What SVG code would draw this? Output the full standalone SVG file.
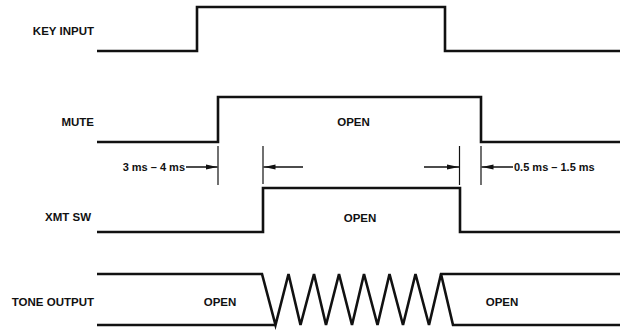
<svg xmlns="http://www.w3.org/2000/svg" width="620" height="330" viewBox="0 0 620 330">
<style>
.lbl{font-family:"Liberation Sans",Arial,sans-serif;font-weight:bold;font-size:11.5px;fill:#111}
.dim{font-family:"Liberation Sans",Arial,sans-serif;font-weight:bold;font-size:11px;fill:#111}
.wave{fill:none;stroke:#111;stroke-width:2.6;stroke-linejoin:miter}
.tick{stroke:#111;stroke-width:1.2}
.arr{stroke:#111;stroke-width:1.5;marker-end:url(#ah)}
</style>
<defs>
<marker id="ah" viewBox="0 0 12 6" refX="12" refY="3" markerWidth="12" markerHeight="6" markerUnits="userSpaceOnUse" orient="auto">
<path d="M0,0.5 L12,3 L0,5.5 Z" fill="#111"/>
</marker>
</defs>
<rect width="620" height="330" fill="#fff"/>
<g id="key-input">
<text class="lbl" x="94" y="35" text-anchor="end">KEY INPUT</text>
<polyline class="wave" points="97,51 197,51 197,7 445,7 445,51 620,51"/>
</g>
<g id="mute">
<text class="lbl" x="94" y="126" text-anchor="end">MUTE</text>
<polyline class="wave" points="97,142 218,142 218,97 481,97 481,142 620,142"/>
<text class="lbl" x="353.5" y="126" text-anchor="middle">OPEN</text>
</g>
<g id="xmt-sw">
<text class="lbl" x="91" y="220.5" text-anchor="end">XMT SW</text>
<polyline class="wave" points="97,232 263,232 263,188 460,188 460,232 620,232"/>
<text class="lbl" x="360" y="221.5" text-anchor="middle">OPEN</text>
</g>
<g id="tone-output">
<text class="lbl" x="94" y="306" text-anchor="end">TONE OUTPUT</text>
<polyline class="wave" points="97,274 262,274 275.5,325 288.5,274 300.5,325 314,274 326,325 339,274 352,325 364,274 377.5,325 389.5,274 403,325 415.5,274 429,325 441,274 620,274"/>
<polyline class="wave" points="97,325 275.5,325"/>
<polyline class="wave" points="441,274 453,325 620,325"/>
<text class="lbl" x="220" y="306" text-anchor="middle">OPEN</text>
<text class="lbl" x="502" y="306" text-anchor="middle">OPEN</text>
</g>
<g id="connectors">
<line class="tick" x1="218" y1="146" x2="218" y2="185"/>
<line class="tick" x1="263" y1="146" x2="263" y2="184"/>
<line class="tick" x1="459.5" y1="146" x2="459.5" y2="185"/>
<line class="tick" x1="481" y1="146" x2="481" y2="185"/>
<line class="arr" x1="186" y1="167" x2="217.5" y2="167"/>
<line class="arr" x1="303" y1="167" x2="263.5" y2="167"/>
<line class="arr" x1="424" y1="167" x2="459" y2="167"/>
<line class="arr" x1="513" y1="167" x2="481.5" y2="167"/>
<text class="dim" x="185" y="171" text-anchor="end">3 ms – 4 ms</text>
<text class="dim" x="514" y="171">0.5 ms – 1.5 ms</text>
</g>
</svg>
